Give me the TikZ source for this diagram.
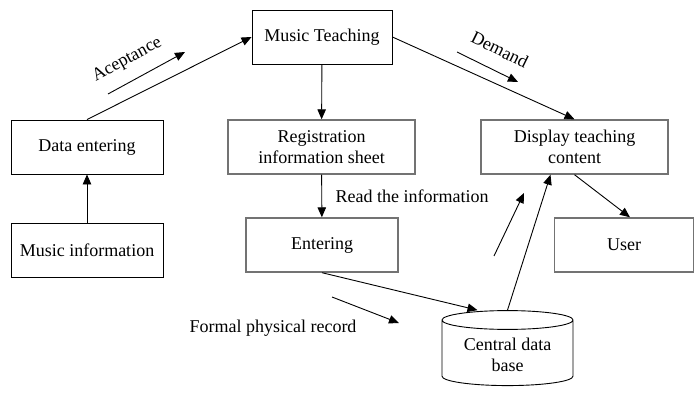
\documentclass[tikz,border=0pt]{standalone}
\usepackage{fontspec}
\setmainfont{Liberation Serif}
\usetikzlibrary{shapes, shapes.geometric, arrows, arrows.meta}

\begin{document}
\begin{tikzpicture}[x=1pt, y=-1pt, >={Triangle[length=10pt,width=8.5pt]},
    font=\fontsize{18}{21}\selectfont,
    box/.style={draw, line width=0.9pt, minimum height=54pt, align=center, inner sep=2pt},
    greybox/.style={box, draw=black!55, line width=1.4pt},
    flow/.style={->, line width=0.9pt}]
            \useasboundingbox (0, 0) rectangle (696, 393);

            \node[box, minimum width=140pt] (mt) at (322, 37) {Music Teaching};
            \node[box, minimum width=152pt] (de) at (87, 147) {Data entering};
            \node[box, minimum width=152pt] (mi) at (87, 250) {Music information};
            \node[greybox, minimum width=187pt] (reg) at (321.5, 147) {Registration\\information sheet};
            \node[greybox, minimum width=187pt] (dtc) at (574.5, 147) {Display teaching\\content};
            \node[greybox, minimum width=152pt] (ent) at (322, 245) {Entering};
            \node[greybox, minimum width=139pt] (user) at (624, 245) {User};
            \node[draw, line width=0.9pt, cylinder, shape border rotate=90, aspect=0.2,
                  minimum width=131pt, minimum height=75pt, align=center] (cdb) at (507.5, 354.5) {Central data\\base};

            \coordinate (a1) at (108, 94);
            \coordinate (a2) at (185, 52);
            \coordinate (d1) at (457, 52);
            \coordinate (d2) at (518, 82);
            \coordinate (f1) at (332, 297);
            \coordinate (f2) at (399, 323);
            \coordinate (u1) at (494, 256);
            \coordinate (u2) at (524, 193);

            \draw[flow] (mi) -- (de);
            \draw[flow] (de.north) -- (mt.west);
            \draw[flow] (mt) -- (reg);
            \draw[flow] (reg) -- node[midway, right, xshift=10pt] {Read the information} (ent);
            \draw[flow] (mt.east) -- (dtc.north);
            \draw[flow] (dtc.south) -- ([xshift=6pt]user.north);
            \draw[flow] (ent.south) -- ([xshift=-30pt]cdb.top);
            \draw[flow] (cdb.top) -- ([xshift=-24pt]dtc.south);

            \draw[flow] (a1) -- node[pos=0.38, above=9pt, sloped] {Aceptance} (a2);
            \draw[flow] (d1) -- node[pos=0.55, above=11pt, sloped] {Demand} (d2);
            \draw[flow] (f1) -- (f2);
            \draw[flow] (u1) -- (u2);
            \node (fpr) at (273, 328) {Formal physical record};
    	\end{tikzpicture}
\end{document}
